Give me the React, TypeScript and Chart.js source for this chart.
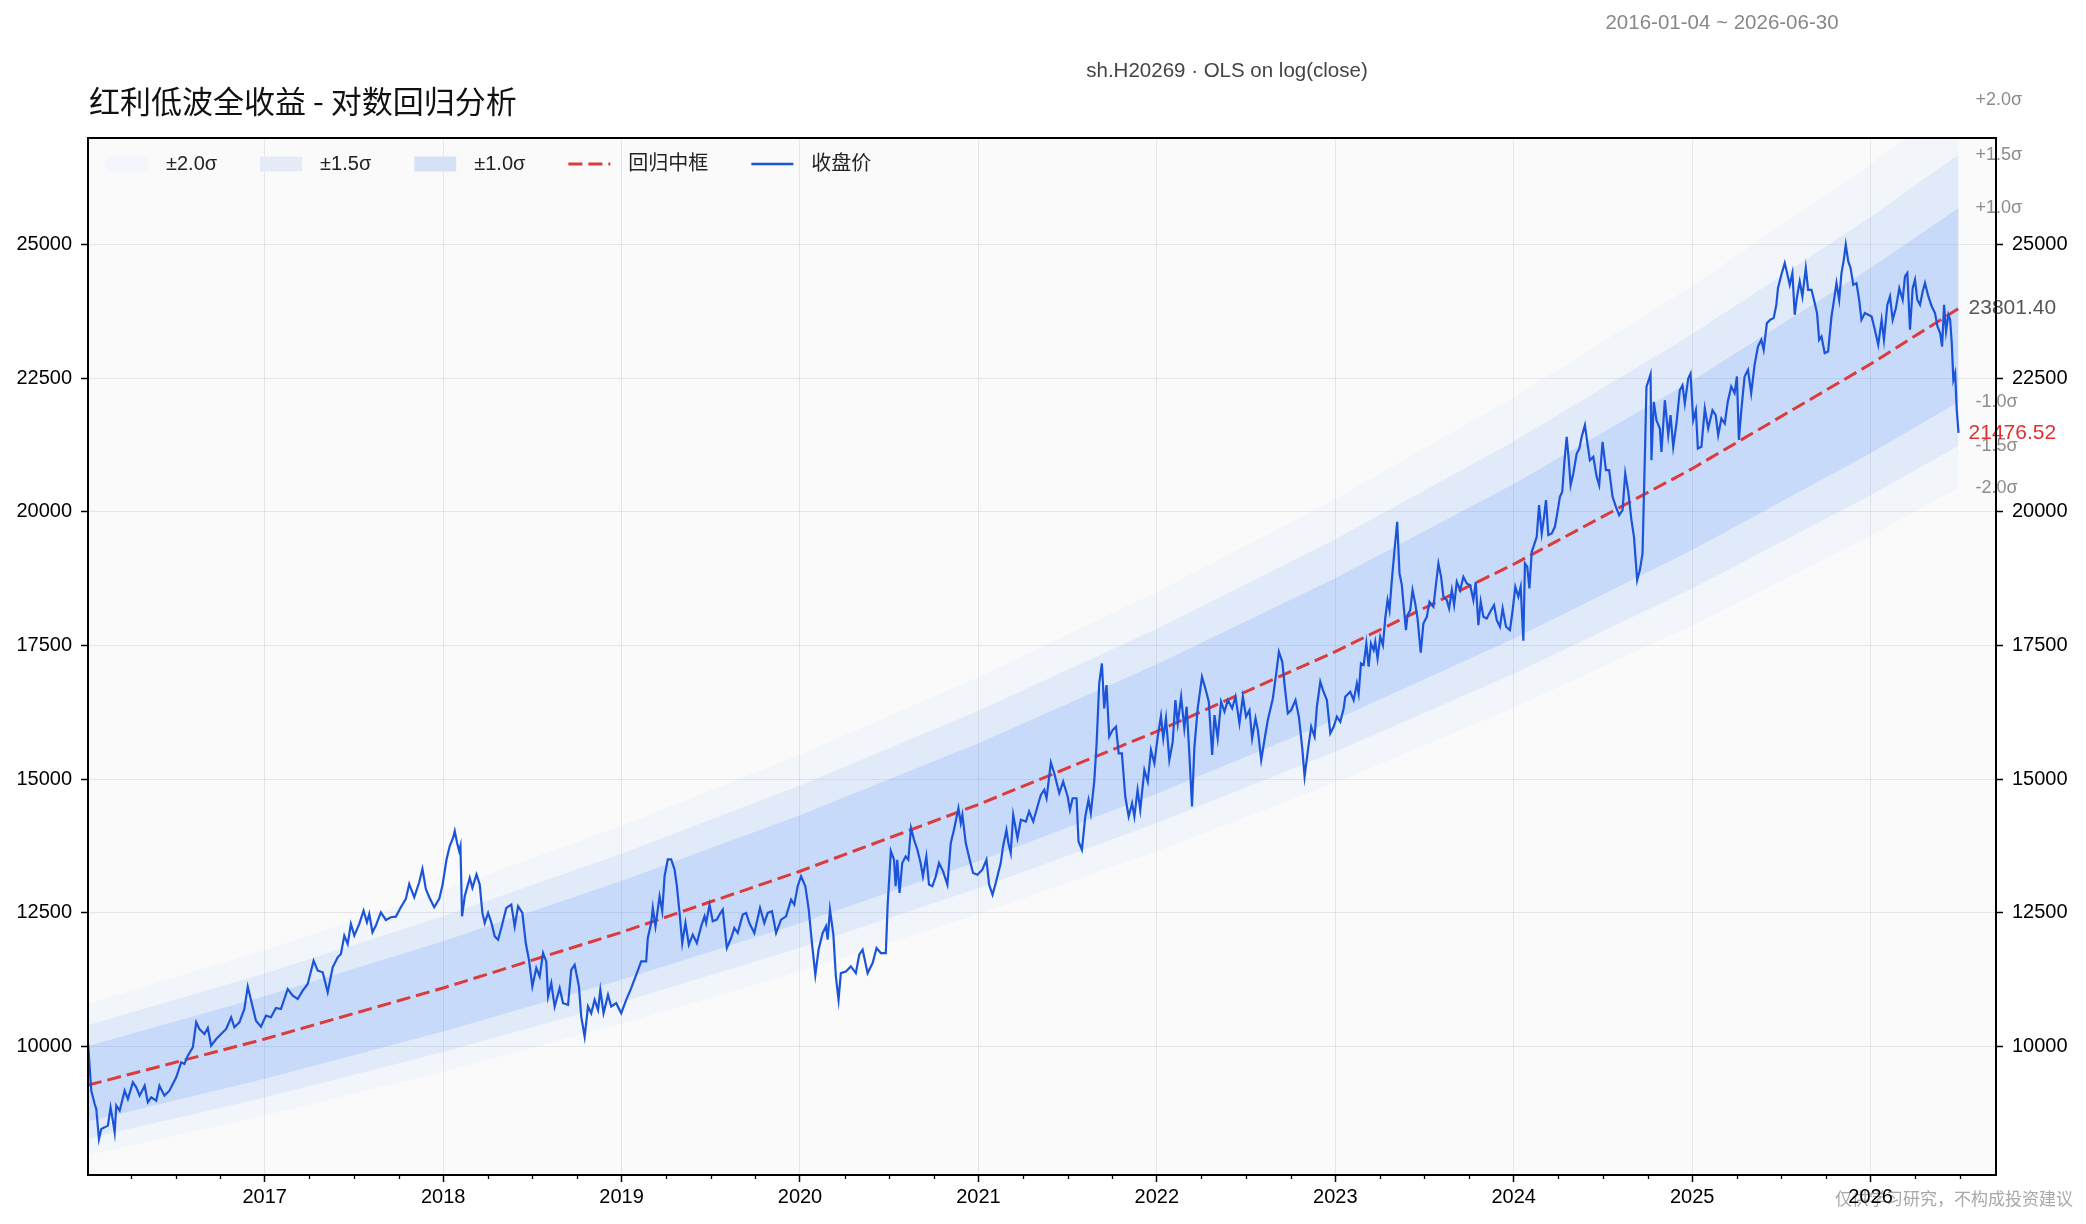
import React, { useEffect, useRef } from 'react';
import { Chart, registerables } from 'chart.js';

Chart.register(...registerables);

const W = 2086;
const H = 1224;
const FONT = '"Liberation Sans", "Noto Sans CJK SC", Arial, sans-serif';
const CJK = '"Noto Sans CJK SC", "Liberation Sans", sans-serif';

const TITLE = '红利低波全收益 - 对数回归分析';
const SUBTITLE = 'sh.H20269 · OLS on log(close)';
const DATE_RANGE = '2016-01-04 ~ 2026-06-30';
const WATERMARK = '仅供学习研究，不构成投资建议';

// axis ranges (decimal years / price)
const xMin = 2016.0096;
const xMax = 2026.703;
const yMin = 7600;
const yMax = 26990;
const yTicks = [10000, 12500, 15000, 17500, 20000, 22500, 25000];
const yearTicks = [2017, 2018, 2019, 2020, 2021, 2022, 2023, 2024, 2025, 2026];

// regression centre line (read at anchors)
const regYears = [2016.0096, 2017, 2018, 2019, 2020, 2021, 2022, 2023, 2024, 2025, 2026, 2026.493];
const regCenter = [9280, 10143, 11096, 12139, 13280, 14528, 15893, 17386, 19020, 20807, 22763, 23801.4];
const sigmaLog = 0.076;
const bandLevels = [2.0, 1.5, 1.0];
const bandAlpha = [0.04, 0.09, 0.15];
const legendSwatch = ['#f3f6fb', '#e4ebf7', '#d5e2f5'];
const sigmaLabels = [2.0, 1.5, 1.0, -1.0, -1.5, -2.0];
const lastYear = 2026.493;
const lastClose = 21476.52;
const lastCenter = 23801.4;

const legendLabels = ['±2.0σ', '±1.5σ', '±1.0σ', '回归中框', '收盘价'];

// closing prices [decimal year, close]
const close2016to2017: [number, number][] = [
  [2016.010, 10050], [2016.028, 9177], [2016.047, 8928], [2016.056, 8834], [2016.071, 8273],
  [2016.084, 8460], [2016.103, 8491], [2016.121, 8523], [2016.136, 8865], [2016.149, 8616],
  [2016.159, 8398], [2016.168, 8897], [2016.187, 8803], [2016.215, 9177], [2016.233, 9021],
  [2016.261, 9333], [2016.280, 9239], [2016.299, 9084], [2016.327, 9270], [2016.345, 8959],
  [2016.364, 9052], [2016.392, 8990], [2016.410, 9270], [2016.438, 9084], [2016.466, 9177],
  [2016.504, 9426], [2016.532, 9707], [2016.550, 9676], [2016.569, 9832], [2016.597, 9988],
  [2016.616, 10455], [2016.634, 10330], [2016.662, 10237], [2016.681, 10349], [2016.700, 10019],
  [2016.728, 10143], [2016.756, 10237], [2016.784, 10330], [2016.812, 10549], [2016.830, 10362],
  [2016.858, 10455], [2016.886, 10704], [2016.905, 11122], [2016.924, 10860], [2016.951, 10486],
  [2016.979, 10374], [2017.007, 10580], [2017.035, 10549], [2017.063, 10723], [2017.091, 10704],
  [2017.129, 11078], [2017.157, 10954], [2017.185, 10891], [2017.213, 11047], [2017.241, 11172],
  [2017.274, 11608], [2017.297, 11421], [2017.325, 11390], [2017.353, 11016], [2017.381, 11483],
  [2017.409, 11670], [2017.427, 11733], [2017.446, 12076], [2017.465, 11920], [2017.483, 12294],
  [2017.502, 12076], [2017.530, 12294], [2017.554, 12543], [2017.573, 12325], [2017.586, 12481],
  [2017.604, 12138], [2017.623, 12263], [2017.651, 12512], [2017.679, 12369], [2017.707, 12419],
  [2017.735, 12431], [2017.763, 12606], [2017.791, 12762], [2017.810, 13042], [2017.838, 12793],
  [2017.866, 13073], [2017.884, 13323], [2017.903, 12949], [2017.922, 12793], [2017.950, 12606],
  [2017.978, 12762], [2017.996, 13011],
];

const close2018to2020: [number, number][] = [
  [2018.019, 13500], [2018.037, 13750], [2018.056, 13906], [2018.065, 14031], [2018.078, 13812],
  [2018.090, 13656], [2018.097, 13750], [2018.106, 12437], [2018.121, 12812], [2018.149, 13156],
  [2018.164, 12969], [2018.187, 13219], [2018.205, 13031], [2018.220, 12500], [2018.233, 12312],
  [2018.252, 12500], [2018.271, 12312], [2018.289, 12062], [2018.308, 12000], [2018.326, 12219],
  [2018.354, 12594], [2018.382, 12656], [2018.401, 12250], [2018.420, 12625], [2018.444, 12500],
  [2018.463, 11937], [2018.481, 11625], [2018.500, 11125], [2018.522, 11469], [2018.541, 11312],
  [2018.560, 11750], [2018.578, 11594], [2018.588, 10937], [2018.606, 11187], [2018.625, 10750],
  [2018.653, 11094], [2018.672, 10812], [2018.700, 10781], [2018.718, 11437], [2018.737, 11531],
  [2018.761, 11125], [2018.774, 10562], [2018.793, 10187], [2018.812, 10750], [2018.830, 10625],
  [2018.849, 10875], [2018.868, 10687], [2018.881, 11062], [2018.899, 10625], [2018.924, 10969],
  [2018.942, 10750], [2018.970, 10812], [2018.998, 10625], [2019.026, 10875], [2019.054, 11094],
  [2019.082, 11344], [2019.110, 11594], [2019.138, 11594], [2019.147, 12031], [2019.166, 12312],
  [2019.175, 12594], [2019.190, 12250], [2019.213, 12812], [2019.228, 12531], [2019.241, 13187],
  [2019.259, 13500], [2019.278, 13500], [2019.297, 13312], [2019.310, 13000], [2019.325, 12500],
  [2019.340, 11937], [2019.358, 12312], [2019.377, 11906], [2019.399, 12094], [2019.422, 11937],
  [2019.446, 12250], [2019.465, 12437], [2019.474, 12312], [2019.493, 12656], [2019.511, 12344],
  [2019.534, 12375], [2019.549, 12469], [2019.567, 12562], [2019.590, 11844], [2019.614, 12031],
  [2019.632, 12219], [2019.651, 12125], [2019.679, 12469], [2019.698, 12500], [2019.716, 12312],
  [2019.744, 12125], [2019.776, 12594], [2019.800, 12312], [2019.819, 12500], [2019.843, 12531],
  [2019.866, 12125], [2019.894, 12375], [2019.922, 12437], [2019.950, 12750], [2019.968, 12656],
  [2019.987, 13000], [2020.006, 13187], [2020.030, 13000], [2020.049, 12562], [2020.067, 11937],
  [2020.086, 11344], [2020.104, 11812], [2020.127, 12125], [2020.146, 12250], [2020.155, 12000],
  [2020.168, 12562], [2020.187, 12094], [2020.201, 11312], [2020.216, 10875], [2020.229, 11375],
  [2020.257, 11406], [2020.285, 11500], [2020.313, 11375], [2020.332, 11719], [2020.351, 11812],
  [2020.379, 11375], [2020.407, 11562], [2020.429, 11844], [2020.453, 11750], [2020.481, 11750],
  [2020.491, 12625], [2020.509, 13656],
];

const close2020to2022: [number, number][] = [
  [2020.527, 13495], [2020.536, 12998], [2020.545, 13495], [2020.558, 12873], [2020.573, 13433],
  [2020.592, 13557], [2020.607, 13495], [2020.622, 14086], [2020.639, 13868], [2020.658, 13682],
  [2020.676, 13433], [2020.689, 13184], [2020.708, 13557], [2020.723, 13029], [2020.742, 12998],
  [2020.761, 13184], [2020.779, 13433], [2020.802, 13277], [2020.826, 13029], [2020.845, 13806],
  [2020.863, 14055], [2020.888, 14459], [2020.901, 14179], [2020.910, 14335], [2020.929, 13806],
  [2020.951, 13495], [2020.970, 13246], [2020.994, 13215], [2021.022, 13308], [2021.045, 13495],
  [2021.060, 13029], [2021.079, 12842], [2021.097, 13060], [2021.125, 13433], [2021.138, 13744],
  [2021.157, 14055], [2021.168, 13806], [2021.181, 13620], [2021.195, 14335], [2021.219, 13899],
  [2021.238, 14242], [2021.266, 14210], [2021.284, 14397], [2021.307, 14210], [2021.331, 14490],
  [2021.350, 14708], [2021.369, 14801], [2021.382, 14645], [2021.406, 15311], [2021.425, 15112],
  [2021.453, 14739], [2021.475, 14957], [2021.500, 14677], [2021.513, 14428], [2021.528, 14645],
  [2021.550, 14645], [2021.561, 13837], [2021.580, 13682], [2021.599, 14304], [2021.617, 14615],
  [2021.630, 14366], [2021.649, 14957], [2021.662, 15641], [2021.677, 16791], [2021.692, 17165],
  [2021.705, 16325], [2021.718, 16760], [2021.733, 15796], [2021.752, 15920], [2021.771, 15982],
  [2021.786, 15485], [2021.804, 15485], [2021.823, 14677], [2021.842, 14304], [2021.861, 14552],
  [2021.874, 14304], [2021.892, 14801], [2021.907, 14428], [2021.930, 15174], [2021.949, 14957],
  [2021.967, 15547], [2021.986, 15299], [2022.005, 15796], [2022.023, 16182], [2022.036, 15765],
  [2022.051, 16138], [2022.070, 15361], [2022.089, 15703], [2022.104, 16480], [2022.117, 16045],
  [2022.136, 16542], [2022.154, 15952], [2022.167, 16356], [2022.182, 15485], [2022.197, 14490],
  [2022.210, 15578], [2022.229, 16325], [2022.253, 16915], [2022.272, 16698], [2022.291, 16449],
  [2022.310, 15454], [2022.323, 16200], [2022.341, 15765], [2022.360, 16449], [2022.379, 16263],
  [2022.398, 16480], [2022.422, 16325], [2022.441, 16542], [2022.463, 16045], [2022.482, 16542],
  [2022.500, 16169], [2022.519, 16294], [2022.534, 15765], [2022.553, 16138], [2022.566, 15920],
  [2022.585, 15361], [2022.603, 15734], [2022.622, 16107], [2022.650, 16511], [2022.669, 16978],
  [2022.684, 17382], [2022.703, 17196], [2022.716, 16760], [2022.734, 16231], [2022.753, 16294],
  [2022.777, 16480], [2022.796, 16169], [2022.815, 15578], [2022.828, 15050], [2022.847, 15547],
  [2022.865, 15982], [2022.884, 15796], [2022.897, 16356], [2022.916, 16822], [2022.934, 16636],
  [2022.953, 16480], [2022.972, 15858], [2022.991, 15982],
];

const close2023to2025: [number, number][] = [
  [2023.009, 16169], [2023.028, 16075], [2023.047, 16324], [2023.056, 16542], [2023.084, 16636],
  [2023.103, 16480], [2023.121, 16791], [2023.131, 16604], [2023.144, 17165], [2023.159, 17135],
  [2023.174, 17539], [2023.187, 17104], [2023.200, 17539], [2023.215, 17415], [2023.224, 17570],
  [2023.237, 17259], [2023.252, 17664], [2023.267, 17508], [2023.280, 18006], [2023.293, 18349],
  [2023.304, 18162], [2023.317, 18723], [2023.332, 19284], [2023.347, 19813], [2023.360, 18847],
  [2023.373, 18629], [2023.382, 18287], [2023.396, 17788], [2023.405, 18069], [2023.420, 18162],
  [2023.433, 18536], [2023.448, 18287], [2023.461, 18006], [2023.479, 17365], [2023.494, 17913],
  [2023.513, 18037], [2023.528, 18318], [2023.550, 18224], [2023.565, 18661], [2023.578, 19034],
  [2023.593, 18785], [2023.606, 18411], [2023.625, 18349], [2023.638, 18193], [2023.653, 18536],
  [2023.666, 18256], [2023.681, 18692], [2023.700, 18536], [2023.718, 18785], [2023.737, 18661],
  [2023.756, 18629], [2023.774, 18349], [2023.787, 18692], [2023.802, 17882], [2023.815, 18318],
  [2023.830, 18037], [2023.849, 18006], [2023.868, 18131], [2023.890, 18256], [2023.905, 17975],
  [2023.923, 17851], [2023.938, 18193], [2023.957, 17851], [2023.979, 17788], [2023.994, 18162],
  [2024.009, 18598], [2024.026, 18411], [2024.039, 18598], [2024.054, 17589], [2024.063, 19034],
  [2024.076, 18972], [2024.088, 18567], [2024.101, 19252], [2024.114, 19377], [2024.129, 19533],
  [2024.142, 20125], [2024.157, 19595], [2024.170, 19906], [2024.181, 20218], [2024.194, 19564],
  [2024.213, 19595], [2024.231, 19720], [2024.244, 19969], [2024.259, 20280], [2024.272, 20374],
  [2024.284, 20935], [2024.297, 21402], [2024.308, 20997], [2024.319, 20498], [2024.334, 20716],
  [2024.353, 21090], [2024.368, 21184], [2024.381, 21402], [2024.399, 21620], [2024.412, 21308],
  [2024.427, 20966], [2024.446, 21028], [2024.465, 20654], [2024.479, 20498], [2024.498, 21308],
  [2024.517, 20779], [2024.535, 20779], [2024.554, 20280], [2024.573, 20093], [2024.591, 19938],
  [2024.610, 20031], [2024.625, 20716], [2024.642, 20374], [2024.660, 19844], [2024.674, 19533],
  [2024.692, 18723], [2024.707, 18910], [2024.722, 19221], [2024.735, 21028], [2024.744, 22336],
  [2024.767, 22573], [2024.772, 20966], [2024.785, 22056], [2024.800, 21713], [2024.819, 21558],
  [2024.828, 21121], [2024.847, 22087], [2024.866, 21433], [2024.879, 21807], [2024.894, 21215],
  [2024.912, 21651], [2024.931, 22274], [2024.946, 22367], [2024.959, 22025], [2024.978, 22492],
  [2024.991, 22585], [2025.006, 21713], [2025.021, 21900], [2025.032, 21184], [2025.052, 21215],
  [2025.071, 21931], [2025.090, 21558], [2025.114, 21900], [2025.132, 21807], [2025.146, 21433],
  [2025.164, 21745], [2025.183, 21651],
];

const close2025to2026: [number, number][] = [
  [2025.200, 22064], [2025.219, 22344], [2025.238, 22219], [2025.251, 22531], [2025.262, 21347],
  [2025.275, 21877], [2025.294, 22531], [2025.313, 22656], [2025.331, 22219], [2025.350, 22749],
  [2025.369, 23092], [2025.388, 23217], [2025.401, 23030], [2025.419, 23529], [2025.438, 23591],
  [2025.457, 23622], [2025.472, 23871], [2025.481, 24183], [2025.500, 24432], [2025.519, 24651],
  [2025.532, 24464], [2025.547, 24245], [2025.562, 24464], [2025.575, 23684], [2025.588, 24027],
  [2025.603, 24308], [2025.618, 24027], [2025.637, 24557], [2025.650, 24152], [2025.669, 24152],
  [2025.687, 23903], [2025.700, 23716], [2025.712, 23217], [2025.725, 23279], [2025.743, 22968],
  [2025.762, 22999], [2025.781, 23653], [2025.794, 23934], [2025.809, 24277], [2025.824, 23965],
  [2025.837, 24464], [2025.850, 24713], [2025.861, 24994], [2025.875, 24682], [2025.888, 24557],
  [2025.903, 24245], [2025.921, 24277], [2025.936, 23965], [2025.949, 23591], [2025.968, 23716],
  [2025.987, 23684], [2026.006, 23653], [2026.024, 23404], [2026.043, 23123], [2026.062, 23591],
  [2026.075, 23217], [2026.094, 23871], [2026.109, 24027], [2026.124, 23591], [2026.142, 23809],
  [2026.161, 24183], [2026.180, 23965], [2026.193, 24401], [2026.206, 24464], [2026.221, 23404],
  [2026.236, 24183], [2026.249, 24339], [2026.262, 23965], [2026.277, 23871], [2026.292, 24121],
  [2026.305, 24277], [2026.324, 24027], [2026.343, 23840], [2026.361, 23716], [2026.375, 23466],
  [2026.390, 23342], [2026.401, 23092], [2026.412, 23871], [2026.423, 23373], [2026.436, 23684],
  [2026.446, 23591], [2026.455, 23155], [2026.464, 22469], [2026.474, 22594], [2026.483, 21908],
  [2026.493, 21476.52],
];

const BAND_RGB = '59,130,246';
const RED = '#dc3b3b';
const BLUE = '#1b54d9';

function App() {
  const ref = useRef<HTMLCanvasElement | null>(null);

  useEffect(() => {
    document.body.style.margin = '0';
    const canvas = ref.current;
    if (!canvas) return;

    const closePts = [
      ...close2016to2017,
      ...close2018to2020,
      ...close2020to2022,
      ...close2023to2025,
      ...close2025to2026,
    ].map(([x, y]) => ({ x, y }));

    const centerPts = regYears.map((x, i) => ({ x, y: regCenter[i] }));
    const bandPts = (k: number) => regYears.map((x, i) => ({ x, y: regCenter[i] * Math.exp(k * sigmaLog) }));

    const bandDatasets: any[] = [];
    bandLevels.forEach((k, i) => {
      const order = 4 - i; // 2σ drawn first
      bandDatasets.push({
        label: `band+${k}`,
        data: bandPts(k),
        borderWidth: 0,
        pointRadius: 0,
        backgroundColor: `rgba(${BAND_RGB},${bandAlpha[i]})`,
        fill: '+1',
        order,
      });
      bandDatasets.push({
        label: `band-${k}`,
        data: bandPts(-k),
        borderWidth: 0,
        pointRadius: 0,
        fill: false,
        order,
      });
    });

    const decor = {
      id: 'decor',
      beforeDraw(chart: any) {
        const { ctx, chartArea: a } = chart;
        ctx.save();
        ctx.fillStyle = '#ffffff';
        ctx.fillRect(0, 0, chart.width, chart.height);
        ctx.fillStyle = '#fafafa';
        ctx.fillRect(a.left, a.top, a.right - a.left, a.bottom - a.top);
        ctx.font = `17px ${CJK}`;
        ctx.fillStyle = '#a8a8a8';
        ctx.textAlign = 'right';
        ctx.textBaseline = 'middle';
        ctx.fillText(WATERMARK, 2073, 1199);
        ctx.restore();
      },
      afterDraw(chart: any) {
        const { ctx, chartArea: a } = chart;
        const xs = chart.scales.x;
        const ys = chart.scales.y;
        ctx.save();

        // minor (quarter) ticks on x
        ctx.strokeStyle = '#000';
        ctx.lineWidth = 1.3;
        for (let yr = 2016; yr <= 2026; yr++) {
          [0.25, 0.5, 0.75].forEach((q) => {
            const v = yr + q;
            if (v < xMin || v > xMax) return;
            const px = Math.round(xs.getPixelForValue(v)) + 0.5;
            ctx.beginPath();
            ctx.moveTo(px, a.bottom);
            ctx.lineTo(px, a.bottom + 4);
            ctx.stroke();
          });
        }

        // right-side labels
        const lastPx = xs.getPixelForValue(lastYear);
        ctx.textAlign = 'left';
        ctx.textBaseline = 'middle';
        ctx.font = `18px ${FONT}`;
        ctx.fillStyle = '#8c8c8c';
        sigmaLabels.forEach((k) => {
          const v = lastCenter * Math.exp(k * sigmaLog);
          const txt = `${k > 0 ? '+' : '-'}${Math.abs(k).toFixed(1)}σ`;
          ctx.fillText(txt, lastPx + 17, ys.getPixelForValue(v));
        });
        ctx.font = `21px ${FONT}`;
        ctx.fillStyle = '#555555';
        ctx.fillText(lastCenter.toFixed(2), lastPx + 10, ys.getPixelForValue(lastCenter));
        ctx.fillStyle = '#e03131';
        ctx.fillText(lastClose.toFixed(2), lastPx + 10, ys.getPixelForValue(lastClose));

        // frame
        ctx.strokeStyle = '#000';
        ctx.lineWidth = 2;
        ctx.strokeRect(a.left, a.top, a.right - a.left, a.bottom - a.top);

        // legend
        let lx = a.left + 18;
        const ly = a.top + 26;
        ctx.font = `20px ${FONT}`;
        ctx.textBaseline = 'middle';
        ctx.textAlign = 'left';
        legendLabels.forEach((lab, i) => {
          if (i < 3) {
            ctx.fillStyle = legendSwatch[i];
            ctx.fillRect(lx, ly - 7.5, 42, 15);
          } else {
            ctx.beginPath();
            ctx.strokeStyle = i === 3 ? RED : BLUE;
            ctx.lineWidth = i === 3 ? 3 : 2.5;
            ctx.setLineDash(i === 3 ? [14, 6] : []);
            ctx.moveTo(lx, ly);
            ctx.lineTo(lx + 42, ly);
            ctx.stroke();
            ctx.setLineDash([]);
          }
          lx += 42 + 18;
          ctx.fillStyle = '#222';
          ctx.fillText(lab, lx, ly);
          lx += ctx.measureText(lab).width + 43;
        });

        // titles
        ctx.fillStyle = '#111';
        ctx.font = `31px ${CJK}`;
        ctx.textAlign = 'left';
        ctx.fillText(TITLE, 89, 101);
        ctx.font = `20.5px ${FONT}`;
        ctx.fillStyle = '#444';
        ctx.textAlign = 'center';
        ctx.fillText(SUBTITLE, 1227, 71);
        ctx.fillStyle = '#888';
        ctx.fillText(DATE_RANGE, 1722, 23);
        ctx.restore();
      },
    };

    const tickFont = { family: FONT, size: 20 };

    const chart = new Chart(canvas, {
      type: 'line',
      data: {
        datasets: [
          {
            label: '收盘价',
            data: closePts,
            borderColor: BLUE,
            borderWidth: 2.2,
            pointRadius: 0,
            fill: false,
            tension: 0,
            order: 0,
          },
          {
            label: '回归中框',
            data: centerPts,
            borderColor: RED,
            borderWidth: 3,
            borderDash: [14, 6],
            pointRadius: 0,
            fill: false,
            order: 1,
          },
          ...bandDatasets,
        ],
      },
      options: {
        animation: false,
        responsive: false,
        devicePixelRatio: 1,
        events: [],
        layout: { padding: { top: 138, left: 0, right: 0, bottom: 0 } },
        plugins: {
          legend: { display: false },
          tooltip: { enabled: false },
          title: { display: false },
        },
        scales: {
          x: {
            type: 'linear',
            min: xMin,
            max: xMax,
            afterBuildTicks: (s: any) => {
              s.ticks = yearTicks.map((v) => ({ value: v }));
            },
            afterFit: (s: any) => {
              s.height = 49;
            },
            ticks: {
              autoSkip: false,
              maxRotation: 0,
              font: tickFont,
              color: '#000',
              padding: 3,
              callback: (v: any) => String(v),
            },
            grid: {
              color: 'rgba(0,0,0,0.08)',
              lineWidth: 1,
              tickColor: '#000',
              tickLength: 7,
              tickWidth: 1.5,
            },
            border: { display: true, color: '#000', width: 2 },
          },
          y: {
            type: 'linear',
            position: 'left',
            min: yMin,
            max: yMax,
            afterBuildTicks: (s: any) => {
              s.ticks = yTicks.map((v) => ({ value: v }));
            },
            afterFit: (s: any) => {
              s.width = 88;
            },
            ticks: {
              font: tickFont,
              color: '#000',
              padding: 9,
              callback: (v: any) => String(v),
            },
            grid: {
              color: 'rgba(0,0,0,0.08)',
              lineWidth: 1,
              tickColor: '#000',
              tickLength: 7,
              tickWidth: 1.5,
            },
            border: { display: true, color: '#000', width: 2 },
          },
          y2: {
            type: 'linear',
            position: 'right',
            min: yMin,
            max: yMax,
            afterBuildTicks: (s: any) => {
              s.ticks = yTicks.map((v) => ({ value: v }));
            },
            afterFit: (s: any) => {
              s.width = 90;
            },
            ticks: {
              font: tickFont,
              color: '#000',
              padding: 9,
              callback: (v: any) => String(v),
            },
            grid: {
              drawOnChartArea: false,
              color: 'rgba(0,0,0,0.08)',
              tickColor: '#000',
              tickLength: 7,
              tickWidth: 1.5,
            },
            border: { display: true, color: '#000', width: 2 },
          },
        },
      } as any,
      plugins: [decor],
    });

    return () => {
      chart.destroy();
    };
  }, []);

  return (
    <div style={{ position: 'fixed', left: 0, top: 0, width: W, height: H, background: '#fff' }}>
      <canvas ref={ref} width={W} height={H} style={{ width: W, height: H, display: 'block' }} />
    </div>
  );
}

export default App;
